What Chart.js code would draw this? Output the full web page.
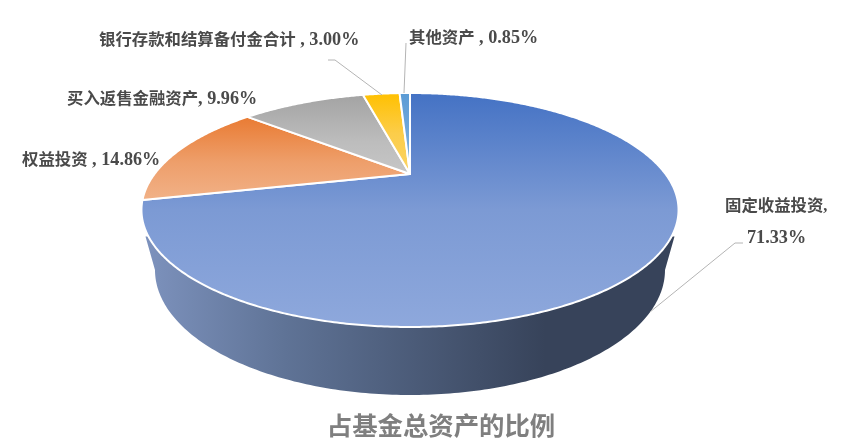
<!DOCTYPE html>
<html><head><meta charset="utf-8">
<script src="https://cdn.jsdelivr.net/npm/chart.js@4/dist/chart.umd.min.js"></script>
<style>html,body{margin:0;padding:0;background:#fff}#w{width:865px;height:448px;filter:blur(0.35px)}</style>
</head><body><div id="w"><canvas id="c" width="865" height="448"></canvas></div>
<script>
const categories = ["固定收益投资","权益投资","买入返售金融资产","银行存款和结算备付金合计","其他资产"];
const values = [71.33,14.86,9.96,3.00,0.85];
const valueLabels = ["71.33%","14.86%","9.96%","3.00%","0.85%"];
const chartTitle = "占基金总资产的比例";

// Perspective of the disc: the flat circle is projected with these factors
const VIEW = {cx:410, cy:174, B:255.5, A:105.9, p:-0.3077,
  lower:{cx:410, cy:270, rx:255, ry:125}, sideFrom:120, sideTo:240, sideOut:3};
const SLICE_STYLE = [
  {stops:[[0,'#4472c4'],[0.5,'#7c9ad4'],[1,'#8ea8dc']]},
  {stops:[[0,'#e97b33'],[0.55,'#ee9f6b'],[1,'#f1b187']]},
  {stops:[[0,'#a3a3a3'],[0.6,'#bdbdbd'],[1,'#c6c6c6']]},
  {stops:[[0,'#ffc000'],[0.5,'#fccd4a'],[1,'#fad466']]},
  {stops:[[0,'#5b9bd5'],[1,'#86b5e0']]}
];
const LABELS = [
  {parts:[[categories[0]+",",""],["",valueLabels[0]]], x:[725,747], y:[206.5,238], line:[[650,312],[735,243],[743,243]]},
  {parts:[[categories[1]," , "+valueLabels[1]]], x:[22], y:[160.5]},
  {parts:[[categories[2],", "+valueLabels[2]]], x:[67], y:[99.5]},
  {parts:[[categories[3]," , "+valueLabels[3]]], x:[99], y:[40.5], line:[[328,60],[335,60],[382,95]]},
  {parts:[[categories[4]," , "+valueLabels[4]]], x:[409], y:[38.5], line:[[406,43],[404,93]]}
];
const NAME_FONT = 'bold 16.4px "Liberation Serif","Noto Sans CJK SC"';
const VALUE_FONT = 'bold 18.2px "Liberation Serif","Noto Sans CJK SC"';

function rim(deg){
  const t=deg*Math.PI/180,u=Math.sin(t),v=-Math.cos(t),d=1+VIEW.p*v;
  return [VIEW.cx+VIEW.B*u/d, VIEW.cy+VIEW.A*v/d];
}
function lowerRim(deg){
  const t=deg*Math.PI/180,L=VIEW.lower;
  return [L.cx+L.rx*Math.sin(t), L.cy-L.ry*Math.cos(t)];
}
// Slices keep the library's angles; only their path goes through the projection
Chart.ArcElement.prototype.draw = function(ctx){
  const a0=(this.startAngle+Math.PI/2)*180/Math.PI, a1=(this.endAngle+Math.PI/2)*180/Math.PI;
  const idx=this.$context?this.$context.dataIndex:0;
  const from=Math.max(a0,VIEW.sideFrom), to=Math.min(a1,VIEW.sideTo);
  ctx.save();
  if(to>from){
    ctx.beginPath();
    const s=rim(from), e=rim(to);
    ctx.moveTo(s[0]+VIEW.sideOut,s[1]);
    for(let d=from;d<=to;d+=1){const p=rim(d); ctx.lineTo(p[0],p[1]);}
    ctx.lineTo(e[0]-VIEW.sideOut,e[1]);
    for(let d=270;d>=90;d-=1){const p=lowerRim(d); ctx.lineTo(p[0],p[1]);}
    ctx.closePath();
    const g=ctx.createLinearGradient(145,0,545,0);
    g.addColorStop(0,'#7d92bd');g.addColorStop(0.35,'#5f7396');g.addColorStop(1,'#37435a');
    ctx.fillStyle=g;ctx.fill();
  }
  const pts=[[VIEW.cx,VIEW.cy]];
  for(let d=a0;d<a1;d+=0.5)pts.push(rim(d));
  pts.push(rim(a1));
  let top=1e9,bot=-1e9;
  pts.forEach(p=>{top=Math.min(top,p[1]);bot=Math.max(bot,p[1]);});
  const fg=ctx.createLinearGradient(0,top,0,bot);
  SLICE_STYLE[idx].stops.forEach(s=>fg.addColorStop(s[0],s[1]));
  ctx.beginPath();
  pts.forEach((p,i)=>i?ctx.lineTo(p[0],p[1]):ctx.moveTo(p[0],p[1]));
  ctx.closePath();
  ctx.fillStyle=fg;ctx.fill();
  ctx.strokeStyle='#ffffff';ctx.lineWidth=2;ctx.lineJoin='round';ctx.stroke();
  ctx.restore();
};
const labelPlugin={id:'sliceLabels',afterDatasetsDraw(chart){
  const ctx=chart.ctx;ctx.save();
  ctx.strokeStyle='#b4b4b4';ctx.lineWidth=1;
  LABELS.forEach(l=>{
    if(l.line){ctx.beginPath();l.line.forEach((p,i)=>i?ctx.lineTo(p[0],p[1]):ctx.moveTo(p[0],p[1]));ctx.stroke();}
  });
  ctx.fillStyle='#4a4a4a';ctx.textBaseline='middle';ctx.textAlign='left';
  LABELS.forEach(l=>l.parts.forEach((pt,i)=>{
    let x=l.x[i];
    ctx.font=NAME_FONT;if(pt[0]){ctx.fillText(pt[0],x,l.y[i]);x+=ctx.measureText(pt[0]).width;}
    ctx.font=VALUE_FONT;if(pt[1])ctx.fillText(pt[1],x,l.y[i]);
  }));
  ctx.restore();
}};
new Chart(document.getElementById('c'),{
  type:'pie',
  data:{labels:categories,datasets:[{data:values,backgroundColor:SLICE_STYLE.map(s=>s.stops[0][1]),borderWidth:0}]},
  options:{responsive:false,animation:false,events:[],
    layout:{padding:{left:17,bottom:4}},
    plugins:{legend:{display:false},tooltip:{enabled:false},
      title:{display:true,text:chartTitle,position:'bottom',color:'#7f7f7f',
        font:{family:'"Liberation Serif","Noto Sans CJK SC"',size:25.4,weight:'bold'},padding:{top:0,bottom:0}}}},
  plugins:[labelPlugin]
});
</script></body></html>
